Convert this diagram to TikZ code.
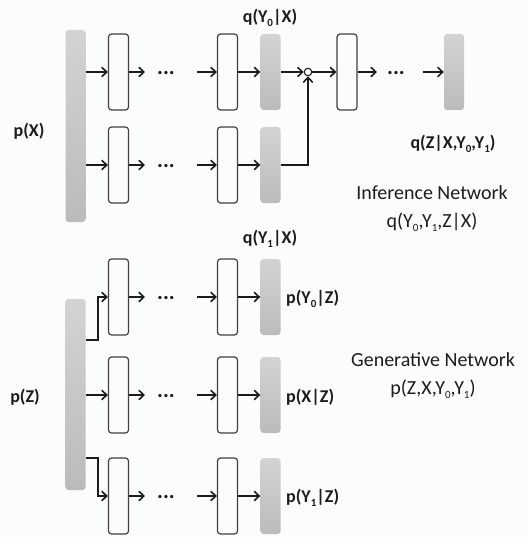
\documentclass[tikz,border=0pt]{standalone}
\usepackage{fontspec}
\setmainfont{Carlito}
\usetikzlibrary{arrows.meta,calc}
\definecolor{bg}{HTML}{FBFCFE}
\definecolor{ink}{HTML}{1C1C1C}
\definecolor{boxline}{HTML}{433F3E}
\definecolor{bartop}{HTML}{D3D3D3}
\definecolor{barbot}{HTML}{BBBBBB}
\newcommand\lo[1]{\raisebox{-0.4ex}{\fontsize{11}{11}\selectfont #1}}
\tikzset{
  x=1pt, y=1pt,
  bar/.style={rectangle, rounded corners=3pt, top color=bartop, bottom color=barbot,
    draw=none, minimum width=20pt, inner sep=0pt},
  hid/.style={rectangle, rounded corners=3pt, draw=boxline, line width=1.2pt, fill=bg,
    minimum width=20pt, minimum height=76pt, inner sep=0pt},
  dotsnode/.style={inner sep=0pt, font=\fontsize{22}{22}\selectfont\bfseries, text=ink},
  lab/.style={inner sep=0pt, font=\fontsize{18}{20}\selectfont\bfseries, text=ink},
  net/.style={inner sep=0pt, font=\fontsize{20}{28}\selectfont, text=ink, align=center},
  arr/.style={draw=ink, line width=1.9pt, -{Straight Barb[length=5pt,width=9.5pt,line width=1.6pt]}},
  mergept/.style={circle, draw=ink, line width=1.1pt, fill=white, minimum size=7.5pt, inner sep=0pt}
}
\begin{document}
\begin{tikzpicture}
\fill[bg] (0,0) rectangle (528,-537);
\useasboundingbox (0,0) rectangle (528,-537);

% ---------- inference network ----------
\node[bar, minimum height=192pt] (px) at (75.5,-126) {};
\node[lab] (pxl) at (29,-131) {p(X)};

% upper branch
\node[hid] (a1) at (118.5,-72) {};
\node[dotsnode] (ad) at (166,-73.5) {...};
\node[hid] (a2) at (227.5,-72) {};
\node[bar, minimum height=76pt] (qy0) at (270.5,-72) {};
\node[lab] (qy0l) at (270,-18) {q(Y\lo{0}|X)};

% lower branch
\node[hid] (b1) at (118.5,-165) {};
\node[dotsnode] (bd) at (166,-166.5) {...};
\node[hid] (b2) at (227.5,-165) {};
\node[bar, minimum height=76pt] (qy1) at (270.5,-165) {};
\node[lab] (qy1l) at (270,-239) {q(Y\lo{1}|X)};

% merge and encoder to z
\node[mergept] (c) at (308,-72) {};
\node[hid] (e1) at (347,-72) {};
\node[dotsnode] (ed) at (396,-73.5) {...};
\node[bar, minimum height=76pt] (qz) at (454,-72) {};
\node[lab] (qzl) at (453,-144) {q(Z|X,Y\lo{0},Y\lo{1})};
\node[net] (inf) at (432,-209) {Inference Network\\q(Y\lo{0},Y\lo{1},Z|X)};

\draw[arr] (px.east |- a1.west) -- (a1.west);
\draw[arr] (a1.east) -- ([xshift=-12pt]ad.west |- a1.east);
\draw[arr] ([xshift=22pt]ad.east |- a2.west) -- (a2.west);
\draw[arr] (a2.east) -- (qy0.west);
\draw[arr] (px.east |- b1.west) -- (b1.west);
\draw[arr] (b1.east) -- ([xshift=-12pt]bd.west |- b1.east);
\draw[arr] ([xshift=22pt]bd.east |- b2.west) -- (b2.west);
\draw[arr] (b2.east) -- (qy1.west);
\draw[arr] (qy0.east) -- (c.west);
\draw[arr] (qy1.east) -| (c.south);
\draw[arr] (c.east) -- (e1.west);
\draw[arr] (e1.east) -- ([xshift=-10pt]ed.west |- e1.east);
\draw[arr] ([xshift=18pt]ed.east |- qz.west) -- (qz.west);

% ---------- generative network ----------
\node[bar, minimum height=191pt] (pz) at (75.5,-394.5) {};
\node[lab] (pzl) at (25,-397) {p(Z)};

\node[hid] (g1a) at (118.5,-297) {};
\node[dotsnode] (g1d) at (166,-298.5) {...};
\node[hid] (g1b) at (227.5,-297) {};
\node[bar, minimum height=76pt] (o1) at (270.5,-297) {};
\node[lab, anchor=west] (o1l) at (286,-299) {p(Y\lo{0}|Z)};

\node[hid] (g2a) at (118.5,-395) {};
\node[dotsnode] (g2d) at (166,-396.5) {...};
\node[hid] (g2b) at (227.5,-395) {};
\node[bar, minimum height=76pt] (o2) at (270.5,-395) {};
\node[lab, anchor=west] (o2l) at (286,-397) {p(X|Z)};

\node[hid] (g3a) at (118.5,-496) {};
\node[dotsnode] (g3d) at (166,-497.5) {...};
\node[hid] (g3b) at (227.5,-496) {};
\node[bar, minimum height=76pt] (o3) at (270.5,-496) {};
\node[lab, anchor=west] (o3l) at (286,-498) {p(Y\lo{1}|Z)};

\node[net] (gen) at (433,-376) {Generative Network\\p(Z,X,Y\lo{0},Y\lo{1})};

\draw[arr] ($(pz.north east)+(0,-41)$) -- ++(12,0) |- (g1a.west);
\draw[arr] (pz.east |- g2a.west) -- (g2a.west);
\draw[arr] ($(pz.south east)+(0,32)$) -- ++(12,0) |- (g3a.west);
\foreach \r in {1,2,3}{
  \draw[arr] (g\r a.east) -- ([xshift=-12pt]g\r d.west |- g\r a.east);
  \draw[arr] ([xshift=22pt]g\r d.east |- g\r b.west) -- (g\r b.west);
  \draw[arr] (g\r b.east) -- (o\r.west);
}
\end{tikzpicture}
\end{document}
